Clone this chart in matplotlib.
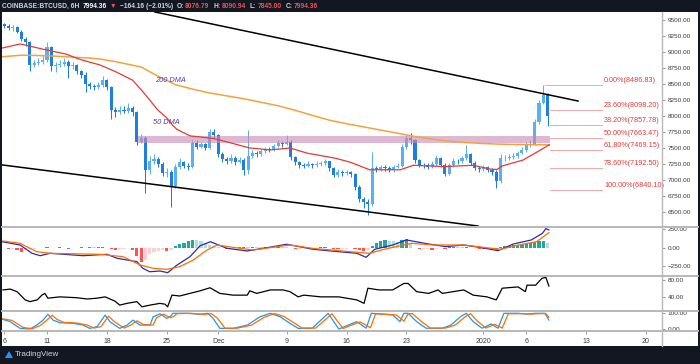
#! /usr/bin/env python3
"BTCUSD 6H chart with fib levels, MACD, RSI and stoch RSI panels"

import numpy as np
import matplotlib
matplotlib.use("Agg")
import matplotlib.pyplot as plt
from matplotlib import font_manager
from matplotlib.patches import Rectangle, Polygon
from matplotlib.lines import Line2D

W, H = 700, 364

# ---- data (days counted from Nov 6, 12h candles) ----
first_open = 9430
closes = [9400, 9370, 9390, 9320, 9200, 9150, 8800, 8830, 8850, 8870,
          9080, 8780, 8800, 8820, 8850, 8780, 8800, 8700, 8640, 8500,
          8470, 8450, 8480, 8560, 8450, 8100, 8060, 8100, 8080, 8120,
          8060, 7600, 7650, 7150, 7300, 7330, 7250, 7110, 7120, 6900,
          7200, 7280, 7220, 7210, 7580, 7520, 7560, 7500, 7750, 7700,
          7400, 7330, 7300, 7350, 7280, 7320, 7160, 7380, 7420, 7400,
          7450, 7480, 7470, 7530, 7580, 7560, 7600, 7360, 7280, 7230,
          7220, 7250, 7230, 7250, 7260, 7290, 7180, 7080, 7130, 7110,
          7120, 7090, 6890, 6700, 6650, 6620, 7180, 7170, 7200, 7180,
          7160, 7200, 7220, 7520, 7650, 7620, 7310, 7240, 7230, 7200,
          7250, 7340, 7240, 7100, 7230, 7300, 7290, 7340, 7400, 7270,
          7190, 7170, 7200, 7160, 7130, 6980, 7340, 7350, 7360, 7380,
          7420, 7470, 7550, 7560, 7900, 8200, 8330, 7994.36]
highs = [9460, 9440, 9420, 9410, 9340, 9230, 9170, 8880, 8900, 8950,
         9150, 9100, 8850, 8870, 8900, 8870, 8840, 8820, 8720, 8680,
         8530, 8500, 8530, 8620, 8580, 8470, 8140, 8150, 8160, 8200,
         8150, 8080, 7720, 7680, 7380, 7400, 7360, 7280, 7180, 7150,
         7250, 7340, 7300, 7260, 7620, 7620, 7600, 7580, 7800, 7790,
         7720, 7430, 7360, 7400, 7380, 7360, 7340, 7780, 7470, 7450,
         7490, 7520, 7510, 7570, 7620, 7610, 7700, 7620, 7380, 7300,
         7260, 7290, 7270, 7290, 7300, 7330, 7300, 7200, 7170, 7160,
         7160, 7140, 7110, 6920, 6740, 6700, 7440, 7220, 7240, 7230,
         7220, 7240, 7270, 7560, 7700, 7730, 7640, 7330, 7270, 7260,
         7290, 7390, 7360, 7260, 7270, 7340, 7330, 7380, 7550, 7420,
         7290, 7220, 7240, 7220, 7180, 7150, 7400, 7390, 7400, 7420,
         7460, 7510, 7590, 7620, 7950, 8250, 8486.83, 8360]
lows = [9370, 9340, 9330, 9290, 9170, 9100, 8700, 8760, 8790, 8820,
        8850, 8700, 8680, 8760, 8780, 8600, 8740, 8660, 8600, 8380,
        8420, 8410, 8420, 8450, 8400, 7950, 7980, 8030, 8040, 8050,
        8000, 7550, 7580, 6800, 7100, 7250, 7200, 7060, 7050, 6580,
        6880, 7170, 7180, 7150, 7180, 7480, 7500, 7470, 7480, 7660,
        7360, 7280, 7250, 7270, 7230, 7260, 7080, 7100, 7340, 7360,
        7380, 7420, 7430, 7450, 7510, 7520, 7540, 7320, 7240, 7180,
        7180, 7200, 7190, 7210, 7220, 7240, 7140, 7040, 7050, 7070,
        7080, 7040, 6850, 6650, 6560, 6450, 6600, 7120, 7140, 7140,
        7120, 7130, 7180, 7200, 7490, 7560, 7270, 7200, 7190, 7170,
        7180, 7220, 7200, 7060, 7080, 7200, 7250, 7270, 7320, 7230,
        7150, 7120, 7140, 7120, 7080, 6870, 6960, 7300, 7310, 7330,
        7350, 7400, 7440, 7520, 7540, 7880, 8180, 7845]

ma200_days = [-0.3, 2, 4, 6, 8, 10, 11.2, 13, 16, 18, 20, 22, 24, 26, 28, 30, 32,
              34, 36, 38, 40, 42, 44, 46, 48, 50, 52, 54, 56, 58, 60, 62, 63.7]
ma200 = [8925, 8950, 8945, 8935, 8920, 8905, 8890, 8850, 8765, 8620, 8490, 8420,
         8360, 8315, 8270, 8215, 8160, 8090, 8010, 7935, 7880, 7830, 7780, 7730,
         7680, 7640, 7605, 7585, 7570, 7560, 7555, 7550, 7550]
ma50_days = [-0.3, 1.85, 2.4, 4.5, 7.3, 8.3, 9.2, 11.2, 13.0, 15.0, 16.2, 17.0,
             17.9, 19.0, 19.7, 20.2, 21.7, 24.4, 25.2, 28.7, 31.1, 33.4, 35.4,
             38.7, 40.4, 42.7, 46.3, 47.8, 51.5, 54.8, 56.8, 57.6, 58.2, 60.6,
             62.3, 63.7]
ma50 = [9060, 9125, 9110, 9045, 8965, 8910, 8870, 8797, 8693, 8560, 8380, 8250,
        8100, 7970, 7850, 7790, 7690, 7650, 7625, 7500, 7470, 7500, 7420, 7340,
        7280, 7160, 7160, 7230, 7210, 7230, 7170, 7165, 7220, 7310, 7440, 7550]

fib_pct = ["0.00%", "23.60%", "38.20%", "50.00%", "61.80%", "78.60%", "100.00%"]
fib_levels = [8486.83, 8098.20, 7857.78, 7663.47, 7469.15, 7192.50, 6840.10]

macd_days = [-0.25, 1.85, 3.25, 4.2, 5.35, 9.2, 12.0, 13.2, 15.5, 16.2, 17.0,
             18.2, 19.1, 20.2, 21.7, 22.9, 24.1, 26.0, 28.4, 31.4, 33.0, 36.1,
             39.1, 41.2, 42.3, 43.3, 45.4, 47.0, 49.6, 51.6, 53.7, 55.8, 57.7,
             59.5, 61.6, 62.9, 63.3, 63.65]
macd = [82, 37, -77, -110, -77, -110, -91, -146, -192, -283, -330, -320, -343,
        -238, -124, 27, 82, -8, -45, 14, 47, -22, -55, -77, -132, -22, 37, 106,
        51, 14, 37, 0, -41, 51, 106, 198, 262, 243]
signal_days = [-0.15, 1.85, 3.8, 5.35, 11.2, 13.9, 15.9, 17.4, 19.0, 20.5, 22.1,
               23.7, 24.9, 26.7, 29.1, 31.9, 33.4, 36.1, 39.1, 41.8, 42.7, 44.4,
               47.6, 50.1, 53.7, 56.9, 58.0, 60.1, 62.2, 63.65]
signal = [92, 60, -55, -77, -91, -124, -238, -283, -297, -261, -169, -32, 37, 5,
          -32, 14, 37, -10, -41, -69, -77, -22, 60, 37, 37, -8, -22, 37, 82, 206]
hist = [-10, -15, -15, -30, -65, -30, -20, -15, -10, -8,
        8, -8, -5, 5, -10, -12, -8, -5, 5, -5,
        6, 5, 8, 10, -5, -20, -25, -20, -15, -10,
        -30, -120, -190, -170, -90, -60, -45, -35, -40, -30,
        20, 45, 70, 90, 105, 100, 85, 60, 40, 25,
        10, -8, -15, -10, -8, 8, 10, 8, 12, 10,
        8, 12, 15, 10, 12, 8, 5, -10, -15, -12,
        -8, -5, -6, -5, 4, 6, -8, -15, -20, -18,
        -12, -10, -20, -35, -45, -30, 30, 60, 85, 100,
        95, 85, 80, 105, 120, 70, -10, -20, -15, -12,
        -25, -15, -10, -15, 10, 15, 10, 8, 12, -8,
        -10, -12, -15, -18, -20, -25, 15, 25, 30, 35,
        40, 45, 55, 60, 75, 90, 95, 60]

rsi_days = [-0.15, 0.7, 1.5, 2.45, 3.0, 3.85, 4.4, 4.75, 5.1, 6.5, 8.5, 9.7,
            10.85, 11.8, 12.95, 13.5, 14.35, 15.5, 16.1, 17.05, 18.2, 18.8, 19.1,
            19.6, 20.5, 21.7, 22.9, 24.05, 25.2, 26.75, 28.4, 28.7, 29.5, 31.1,
            32.6, 33.4, 34.35, 35.0, 37.0, 39.1, 41.2, 42.05, 42.5, 43.8, 45.4,
            46.7, 47.2, 48.2, 49.6, 50.7, 51.2, 53.7, 54.8, 56.4, 57.5, 58.2,
            60.05, 60.9, 61.1, 62.1, 62.85, 63.3, 63.65]
rsi = [57, 59, 53, 34, 30, 34, 45, 49, 38, 41, 39, 36, 38, 41, 31, 22, 26, 30,
       18, 22, 26, 24, 18, 45, 43, 49, 55, 62, 49, 45, 45, 55, 49, 57, 57, 53,
       41, 45, 41, 41, 34, 26, 61, 57, 57, 72, 72, 53, 49, 57, 49, 57, 45, 41,
       34, 61, 64, 53, 68, 68, 84, 86, 66]

k_days = [-0.2, 0.68, 1.85, 3.0, 3.8, 4.55, 5.1, 5.7, 6.5, 8.05, 9.2, 10.0,
          10.85, 11.8, 12.35, 13.5, 14.35, 15.05, 15.85, 17.05, 17.4, 18.2, 19.0,
          19.4, 19.7, 21.35, 22.9, 23.8, 24.4, 25.2, 26.75, 28.4, 29.9, 31.1,
          32.25, 33.4, 34.35, 36.0, 37.85, 39.1, 40.2, 41.2, 42.3, 42.9, 45.4,
          46.25, 46.7, 47.2, 48.2, 49.3, 51.2, 52.2, 53.3, 54.0, 54.8, 55.85,
          56.9, 57.7, 58.4, 60.05, 61.1, 62.1, 63.2, 63.65]
stoch_k = [62, 47, 4, 0, 25, 57, 94, 57, 40, 36, 25, 4, 15, 89, 47, 4, 25, 57,
           25, 25, 78, 97, 68, 78, 100, 100, 94, 100, 68, 4, 4, 25, 78, 100, 78,
           36, 4, 5, 100, 0, 25, 47, 5, 100, 90, 47, 100, 100, 47, 5, 5, 25, 78,
           100, 47, 5, 32, 5, 100, 100, 95, 100, 100, 57]
d_days = [-0.2, 0.9, 2.2, 3.3, 4.2, 4.9, 5.6, 6.2, 7.0, 8.5, 9.7, 10.5, 11.3,
          12.2, 12.8, 14.0, 14.8, 15.5, 16.3, 17.4, 17.8, 18.6, 19.4, 19.8, 20.2,
          21.8, 23.3, 24.2, 24.9, 25.8, 27.2, 28.9, 30.4, 31.6, 32.7, 33.9, 34.8,
          36.4, 38.3, 39.6, 40.6, 41.6, 42.8, 43.4, 45.8, 46.7, 47.2, 47.7, 48.7,
          49.8, 51.6, 52.7, 53.8, 54.5, 55.3, 56.3, 57.3, 58.2, 58.9, 60.5, 61.6,
          62.6, 63.3, 63.65]
stoch_d = [65, 55, 10, 2, 22, 52, 88, 60, 42, 38, 25, 6, 15, 82, 50, 6, 25, 52,
           28, 25, 72, 95, 72, 80, 98, 100, 93, 98, 70, 5, 5, 25, 75, 98, 80, 38,
           6, 6, 97, 3, 25, 45, 8, 97, 90, 50, 97, 98, 50, 6, 6, 25, 75, 98, 50,
           6, 30, 6, 97, 98, 95, 98, 98, 75]

date_ticks = [0, 5, 12, 19, 25, 33, 40, 47, 56, 61, 68, 75]
date_labels = ["6", "11", "18", "25", "Dec", "9", "16", "23", "2020", "6", "13", "20"]

# ---- fonts ----
names = {f.name for f in font_manager.fontManager.ttflist}
NARROW = "Liberation Sans Narrow" if "Liberation Sans Narrow" in names else "Liberation Sans"
plt.rcParams["font.family"] = ["Liberation Sans", "DejaVu Sans"]

DARK = "#131722"
GRID = "#b8b8b8"
AXTXT = "#3a3a3a"


def px_rect(x0, y0, x1, y1):
    return [x0 / W, 1 - y1 / H, (x1 - x0) / W, (y1 - y0) / H]


fig = plt.figure(figsize=(W / 100, H / 100), dpi=100, facecolor=DARK)
fig.patches.append(Rectangle((2 / W, 1 - 346 / H), 696 / W, 334 / H,
                             transform=fig.transFigure, facecolor="white",
                             edgecolor="none", zorder=-5))

XL = (-0.26, 76.87)
ax = fig.add_axes(px_rect(2, 12, 662, 226))
ax_macd = fig.add_axes(px_rect(2, 227, 662, 275))
ax_rsi = fig.add_axes(px_rect(2, 276, 662, 310.5))
ax_st = fig.add_axes(px_rect(2, 311.5, 662, 331))

for a in (ax, ax_macd, ax_rsi, ax_st):
    a.set_facecolor("none")
    a.set_xlim(*XL)
    for s in ("top", "left", "bottom", "right"):
        a.spines[s].set_visible(False)
    a.yaxis.tick_right()
    a.tick_params(axis="y", length=2, width=0.6, color="#888888", pad=2,
                  labelsize=4.6, labelcolor=AXTXT)
    a.set_xticks([])

# ---- main price panel ----
t = np.arange(len(closes)) * 0.5
opens = [first_open] + closes[:-1]
up = np.array(closes) >= np.array(opens)
cols = np.where(up, "#5ab0f2", "#1f7fe0")
ax.vlines(t, lows, highs, colors=cols, lw=0.75, zorder=2)
ax.bar(t, np.abs(np.array(closes) - np.array(opens)), bottom=np.minimum(opens, closes),
       width=0.36, color=cols, zorder=2)

ax.add_patch(Rectangle((15.6, 7580), 63.8 - 15.6, 110, facecolor="#c88ab4",
                       alpha=0.6, edgecolor="none", zorder=2.5))
ax.plot(ma200_days, ma200, color="#f5a23a", lw=1.1, zorder=3)
ax.plot(ma50_days, ma50, color="#e53935", lw=0.9, zorder=3)
ax.plot([17.62, 67.06], [9625, 8234], color="black", lw=1.1, zorder=3)
ax.plot([-0.26, 55.37], [7236, 6281], color="black", lw=1.1, zorder=3)

ax.text(17.6, 8562, "200 DMA", color="#3f3fbf", fontsize=5.3, style="italic",
        va="center", ha="left", zorder=5)
ax.text(17.4, 7891, "50 DMA", color="#3f3fbf", fontsize=5.3, style="italic",
        va="center", ha="left", zorder=5)

for i, (pct, lvl) in enumerate(zip(fib_pct, fib_levels)):
    x0 = 63.2 if i == 0 else 63.8
    ax.plot([x0, 69.9], [lvl, lvl], color="#f2a9a9", lw=0.7, zorder=3)
    ax.text(70.1, lvl + 15, f"{pct}({lvl:.2f})", color="#e53935", fontsize=5.2,
            va="bottom", ha="left", zorder=5)

ax.set_ylim(6281.25, 9625)
pticks = np.arange(6500, 9501, 250)
ax.set_yticks(pticks)
ax.set_yticklabels([f"{v:.2f}" for v in pticks])

# ---- MACD ----
h = np.array(hist, dtype=float)
prev = np.concatenate([[h[0]], h[:-1]])
hcols = []
for v, p in zip(h, prev):
    if v >= 0:
        hcols.append("#26a69a" if v >= p else "#b2dfdb")
    else:
        hcols.append("#ff5252" if v < p else "#ffcdd2")
ax_macd.bar(t, h, width=0.38, color=hcols, zorder=2)
ax_macd.plot(macd_days, macd, color="#2b2bb0", lw=0.9, zorder=3)
ax_macd.plot(signal_days, signal, color="#ff6d00", lw=0.9, zorder=3)
ax_macd.set_ylim(-375, 284)
ax_macd.set_yticks([-250, 0, 250])
ax_macd.set_yticklabels(["\u2212250.00", "0.00", "250.00"])

# ---- RSI ----
ax_rsi.plot(rsi_days, rsi, color="black", lw=0.9, zorder=3)
ax_rsi.set_ylim(9.5, 89.2)
ax_rsi.set_yticks([40, 80])
ax_rsi.set_yticklabels(["40.00", "80.00"])

# ---- Stoch RSI ----
ax_st.plot(k_days, stoch_k, color="#2196f3", lw=0.9, zorder=3)
ax_st.plot(d_days, stoch_d, color="#ff6d00", lw=0.9, zorder=3)
ax_st.set_ylim(-12.7, 111.5)
ax_st.set_yticks([0, 100])
ax_st.set_yticklabels(["0.00", "100.00"])
ax_st.set_xticks(date_ticks)
ax_st.set_xticklabels(date_labels)
ax_st.tick_params(axis="x", length=2, width=0.6, color="#888888", pad=3,
                  labelsize=5, labelcolor=AXTXT)

# ---- separators and axis line ----
for yy in (226.5, 275.5, 311, 331):
    fig.add_artist(Line2D([2 / W, 698 / W], [1 - yy / H] * 2, color=GRID, lw=1.4))
fig.add_artist(Line2D([662 / W] * 2, [1 - 12 / H, 1 - 346 / H], color=GRID, lw=1.0))

# ---- header ----
renderer = fig.canvas.get_renderer()
pieces = [("COINBASE:BTCUSD, 6H", "#d1d4dc"), ("7994.36", "#ffffff"),
          ("\u25bc", "#ef5350"), ("\u2212164.16 (\u22122.01%)", "#d1d4dc"),
          ("O:", "#d1d4dc"), ("8076.79", "#ef5350"), ("H:", "#d1d4dc"),
          ("8090.94", "#ef5350"), ("L:", "#d1d4dc"), ("7845.00", "#ef5350"),
          ("C:", "#d1d4dc"), ("7994.36", "#ef5350")]
gaps = [4, 3, 3, 4, 1, 4, 1, 4, 1, 4, 1, 0]
xp = 1.5
for (txt, c), g in zip(pieces, gaps):
    tt = fig.text(xp / W, 1 - 6 / H, txt, color=c, fontsize=4.8, fontweight="bold",
                  va="center", ha="left", family=[NARROW, "DejaVu Sans"])
    xp += tt.get_window_extent(renderer=renderer).width + g

# ---- footer ----
fig.patches.append(Polygon([[5 / W, 1 - 358 / H], [9 / W, 1 - 351 / H],
                            [13 / W, 1 - 358 / H]], closed=True,
                           transform=fig.transFigure, facecolor="#2196f3",
                           edgecolor="none"))
fig.text(15 / W, 1 - 355 / H, "TradingView", color="#d1d4dc", fontsize=5.8,
         va="center", ha="left", family=[NARROW, "DejaVu Sans"])

fig.savefig("out.png", dpi=100, facecolor=DARK)
